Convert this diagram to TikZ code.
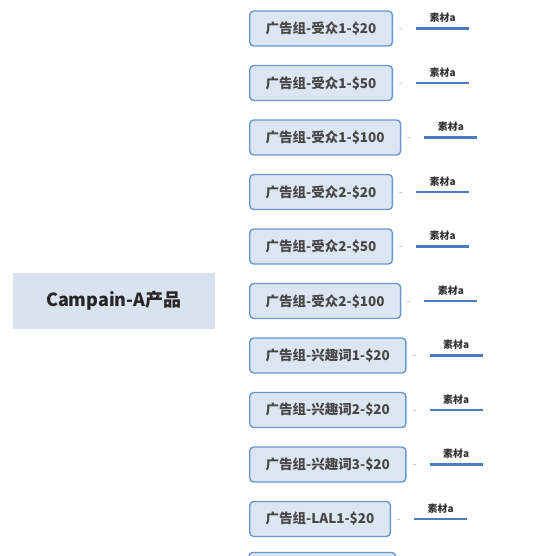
\documentclass[tikz,border=0pt]{standalone}
\usepackage{fontspec}
\setmainfont{Noto Sans CJK SC}
\usepackage{xcolor}
\usetikzlibrary{positioning,calc}

\definecolor{groupfill}{HTML}{DCE6F3}
\definecolor{groupline}{HTML}{6A96D2}
\definecolor{rootfill}{HTML}{D8E3EF}
\definecolor{matline}{HTML}{4A7CC2}
\definecolor{stubgrey}{HTML}{C8C8C8}

\tikzset{
    root/.style={fill=rootfill, minimum width=202pt, minimum height=56pt,
        font=\fontsize{18}{21}\selectfont\bfseries, text=black!85},
    group/.style={draw=groupline, line width=1.4pt, fill=groupfill, rounded corners=4pt,
        minimum height=35pt, inner xsep=16pt, anchor=west,
        font=\fontsize{13.5}{16}\selectfont\bfseries, text=black!72},
    stub/.style={stubgrey, line width=0.8pt},
    matbar/.style={matline, line width=2.4pt},
    matlabel/.style={font=\fontsize{10}{12}\selectfont\bfseries, text=black!80, inner sep=1pt}
}

\begin{document}
\begin{tikzpicture}[x=1pt,y=-1pt]
    \useasboundingbox (0,0) rectangle (555,556);
    \node[root] (camp) at (113.8,301) {Campain-A产品};
    % ad groups
    \foreach \i/\cy/\txt in {1/28.5/广告组-受众1-\$20, 2/83/广告组-受众1-\$50, 3/137.5/广告组-受众1-\$100,
        4/192/广告组-受众2-\$20, 5/246.5/广告组-受众2-\$50, 6/301/广告组-受众2-\$100,
        7/355.5/广告组-兴趣词1-\$20, 8/410/广告组-兴趣词2-\$20, 9/464.5/广告组-兴趣词3-\$20,
        10/519/广告组-LAL1-\$20} {
        \node[group] (g\i) at (249,\cy) {\txt};
        \coordinate (s\i) at ([xshift=6pt]g\i.east);
        \coordinate (t\i) at ([xshift=9pt]g\i.east);
        \draw[stub] (s\i) -- (t\i);
        \coordinate (ma\i) at ([xshift=23pt]g\i.east);
        \coordinate (mb\i) at ([xshift=76pt]g\i.east);
        \draw[matbar] (ma\i) -- (mb\i) node[midway, above=3.5pt, matlabel] {素材a};
    }
    \node[group, minimum width=147pt] (g11) at (248,570) {}; % cut off
\end{tikzpicture}
\end{document}
